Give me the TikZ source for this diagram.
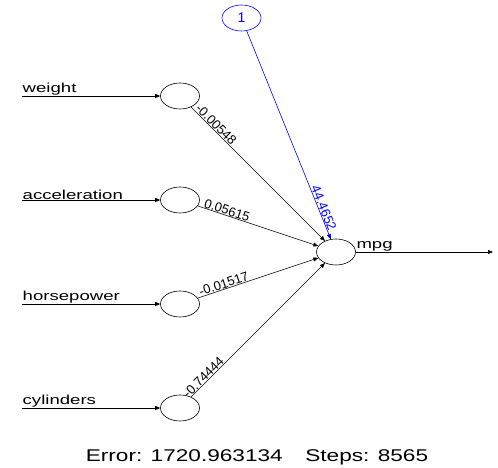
\documentclass[tikz,border=0pt]{standalone}
\usepackage{graphicx}
\usepackage{fontspec}
\setmainfont{Liberation Sans}
\usetikzlibrary{shapes.geometric,arrows.meta}
\newcommand{\wide}[1]{\scalebox{1.43}[1]{#1}}
\begin{document}
\begin{tikzpicture}[x=1pt,y=1pt,
  neuron/.style={draw, ellipse, minimum width=39, minimum height=26, inner sep=0pt, line width=0.6pt},
  wire/.style={-{Triangle[length=5pt,width=4pt]}, line width=0.6pt},
  inlabel/.style={anchor=south west, inner sep=0.5pt, font=\fontsize{13}{15}\selectfont},
  weightlabel/.style={sloped, above, inner sep=0.3pt, font=\fontsize{13}{15}\selectfont}]
\useasboundingbox[fill=white] (0,0) rectangle (498,468);

%Shape: Ellipses (input layer)
\node[neuron] (wn) at (180,372) {};
\node[neuron] (an) at (180,268) {};
\node[neuron] (hn) at (180,164) {};
\node[neuron] (cn) at (180,60) {};
%Shape: Ellipse (output)
\node[neuron] (out) at (336,216) {};
%Shape: Ellipse (bias)
\node[neuron, blue] (bias) at (241.5,450) {\fontsize{14}{16}\selectfont 1};

%Free ends
\coordinate (win) at (22,372);
\coordinate (ain) at (22,268);
\coordinate (hin) at (22,164);
\coordinate (cin) at (22,60);
\coordinate (yout) at (493,216);

% Text Node
\node[inlabel] (lw) at (win) {\wide{weight}};
\node[inlabel] (la) at (ain) {\wide{acceleration}};
\node[inlabel] (lh) at (hin) {\wide{horsepower}};
\node[inlabel] (lc) at (cin) {\wide{cylinders}};
\node[inlabel] (ly) at (out.east) {\wide{mpg}};

%Straight Lines (inputs)
\draw[wire] (win) -- (wn);
\draw[wire] (ain) -- (an);
\draw[wire] (hin) -- (hn);
\draw[wire] (cin) -- (cn);
%Straight Lines (weights)
\draw[wire] (wn) -- node[weightlabel, pos=0.16] {-0.00548} (out);
\draw[wire] (an) -- node[weightlabel, pos=0.23] {0.05615} (out);
\draw[wire] (hn) -- node[weightlabel, pos=0.23] {-0.01517} (out);
\draw[wire] (cn) -- node[weightlabel, pos=0.12] {-0.74444} (out);
\draw[wire, blue] (bias) -- node[weightlabel, pos=0.86] {44.4652} (out);
%Straight Lines (output)
\draw[wire] (out) -- (yout);

% Text Node
\node (err) at (257,11) {\scalebox{1.33}[1]{\fontsize{17}{20}\selectfont Error: 1720.963134\quad Steps: 8565}};

\end{tikzpicture}
\end{document}
